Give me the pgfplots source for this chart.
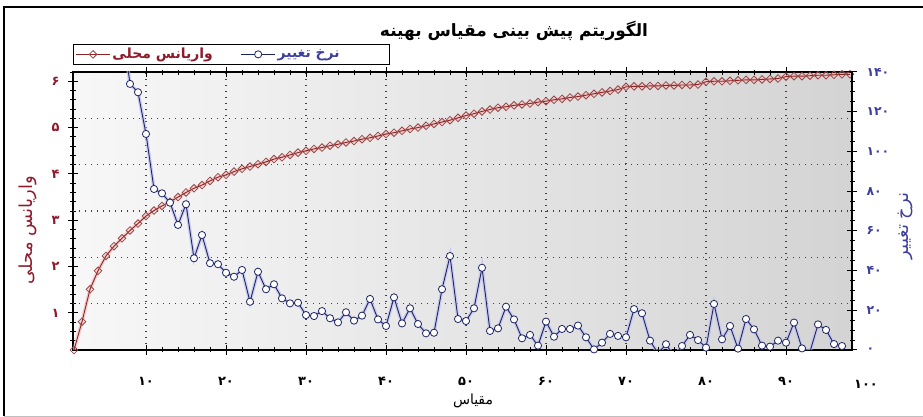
\documentclass[border=0pt]{standalone}
\usepackage{pgfplots}
\pgfplotsset{compat=1.18}
\usepackage{pgfplotstable}
\usepackage{fontspec}
\TeXXeTstate=1
\newfontfamily\fa[Script=Arabic]{DejaVu Sans}
\definecolor{redline}{HTML}{8C2424}
\definecolor{redmark}{HTML}{9A4444}
\definecolor{redglow}{HTML}{F2BDBD}
\definecolor{blueline}{HTML}{1C2464}
\definecolor{blueglow}{HTML}{BFC0F0}
\definecolor{leftc}{HTML}{8E1A2C}
\definecolor{rightc}{HTML}{3E3EA0}

\pgfplotstableread{
x y
1 0.00
2 0.61
3 1.31
4 1.71
5 2.03
6 2.24
7 2.41
8 2.58
9 2.73
10 2.89
11 3.01
12 3.11
13 3.20
14 3.30
15 3.40
16 3.49
17 3.56
18 3.65
19 3.73
20 3.78
21 3.85
22 3.91
23 3.96
24 4.01
25 4.06
26 4.12
27 4.16
28 4.21
29 4.26
30 4.30
31 4.34
32 4.37
33 4.41
34 4.44
35 4.48
36 4.51
37 4.55
38 4.58
39 4.62
40 4.66
41 4.69
42 4.73
43 4.77
44 4.80
45 4.84
46 4.88
47 4.92
48 4.96
49 5.01
50 5.06
51 5.10
52 5.15
53 5.19
54 5.23
55 5.25
56 5.28
57 5.30
58 5.32
59 5.35
60 5.37
61 5.40
62 5.42
63 5.45
64 5.47
65 5.50
66 5.53
67 5.56
68 5.59
69 5.62
70 5.68
71 5.69
72 5.69
73 5.70
74 5.70
75 5.71
76 5.71
77 5.72
78 5.72
79 5.73
80 5.79
81 5.80
82 5.80
83 5.81
84 5.82
85 5.83
86 5.83
87 5.84
88 5.85
89 5.86
90 5.90
91 5.91
92 5.91
93 5.92
94 5.93
95 5.93
96 5.94
97 5.95
98 5.95
}\redtab

\pgfplotstableread{
x y
8 134.0
9 129.8
10 108.8
11 81.1
12 78.9
13 74.2
14 63.0
15 73.4
16 46.2
17 57.9
18 43.7
19 43.2
20 38.9
21 36.9
22 40.3
23 24.3
24 39.4
25 30.6
26 33.1
27 26.0
28 23.5
29 23.8
30 17.6
31 17.1
32 19.6
33 16.0
34 13.9
35 19.0
36 14.8
37 17.3
38 25.7
39 15.4
40 12.1
41 26.5
42 13.4
43 21.0
44 13.1
45 8.4
46 8.7
47 30.6
48 47.3
49 15.6
50 14.6
51 21.0
52 41.4
53 9.6
54 10.9
55 21.8
56 15.4
57 5.9
58 7.6
59 2.2
60 14.3
61 6.7
62 10.6
63 10.6
64 12.3
65 6.4
66 0.3
67 3.7
68 8.1
69 7.1
70 6.4
71 20.6
72 18.5
73 4.7
74 -1.7
75 2.9
76 -3.0
77 2.0
78 7.6
79 5.0
80 1.2
81 23.2
82 5.4
83 12.1
84 0.7
85 15.6
86 10.4
87 2.2
88 1.7
89 4.7
90 3.7
91 13.8
92 0.8
93 -0.8
94 12.9
95 10.1
96 3.0
97 2.0
}\bluetab

\begin{document}
\begin{tikzpicture}
\useasboundingbox (0,0) rectangle (923bp,417bp);
\begin{axis}[
  at={(73bp,67bp)}, anchor=south west,
  width=779bp, height=278bp, scale only axis,
  xmin=0.875, xmax=98.25, ymin=0, ymax=6,
  clip mode=individual,
  axis background/.style={left color=black!3, right color=black!17},
  axis line style={line width=1.2bp, black},
  xtick={10,20,...,90},
  xticklabels={۱۰,۲۰,۳۰,۴۰,۵۰,۶۰,۷۰,۸۰,۹۰},
  minor x tick num=4,
  ytick={0.8,1.8,2.8,3.8,4.8,5.8},
  yticklabels={۱,۲,۳,۴,۵,۶},
  minor ytick={0.2,0.4,0.6,1.0,1.2,1.4,1.6,2.0,2.2,2.4,2.6,3.0,3.2,3.4,3.6,4.0,4.2,4.4,4.6,5.0,5.2,5.4,5.6,6.0},
  ytick pos=left,
  tick align=center,
  major tick length=10bp, minor tick length=5bp,
  tick style={black, line width=1bp},
  xmajorgrids,
  grid style={dash pattern=on 1.2bp off 4.8bp, line width=1.1bp, black!75},
  extra y ticks={1,2,3,4,5}, extra y tick labels={},
  extra y tick style={grid=major, major tick length=0pt},
  xticklabel style={font=\fa\bfseries\fontsize{13}{14}\selectfont, black},
  yticklabel style={font=\fa\bfseries\fontsize{13}{14}\selectfont, text=leftc},
  xticklabel shift=19bp,
  yticklabel shift=5bp,
]
\addplot[draw=redglow, line width=3.5bp, opacity=0.7, forget plot] table {\redtab};
\addplot[draw=redline, line width=0.9bp, mark=square, mark size=2.7bp,
  mark options={rotate=45, fill=white, draw=redmark, line width=0.8bp, solid}] table {\redtab};
\end{axis}

\begin{axis}[
  at={(73bp,67bp)}, anchor=south west,
  width=779bp, height=278bp, scale only axis,
  xmin=0.875, xmax=98.25, ymin=0, ymax=140,
  clip mode=individual,
  axis x line=none, axis y line*=right,
  axis line style={line width=1.2bp, black},
  ytick={0,20,...,140},
  yticklabels={۰,۲۰,۴۰,۶۰,۸۰,۱۰۰,۱۲۰,۱۴۰},
  minor y tick num=3,
  tick align=center,
  major tick length=10bp, minor tick length=5bp,
  tick style={black, line width=1bp},
  yticklabel style={font=\fa\bfseries\fontsize{12.5}{14}\selectfont, text=rightc},
  yticklabel shift=6bp,
  legend columns=2,
  legend style={at={(0,1)}, anchor=south west, yshift=7bp, draw=black, line width=1.2bp,
    fill=white, inner xsep=2bp, inner ysep=2bp,
    font=\fa\bfseries\fontsize{14}{15}\selectfont,
    /tikz/every even column/.append style={column sep=26bp}},
  legend image code/.code={\draw[mark repeat=2, mark phase=2, #1] plot coordinates {(0bp,0bp) (17bp,0bp) (34bp,0bp)};},
]
\addlegendimage{draw=redline, line width=0.9bp, mark=square, mark size=2.7bp,
  mark options={rotate=45, fill=white, draw=redmark, line width=0.8bp, solid}}
\addlegendentry{\textcolor{leftc}{\beginR واریانس محلی\endR}}
\addplot[draw=blueglow, line width=3.5bp, opacity=0.7, forget plot] coordinates {(7,164) (8,134)};
\addplot[draw=blueglow, line width=3.5bp, opacity=0.7, forget plot] table {\bluetab};
\addplot[draw=blueline, line width=0.9bp, forget plot] coordinates {(7,164) (8,134)};
\addplot[draw=blueline, line width=0.9bp, mark=*, mark size=3.6bp,
  mark options={fill=white, draw=blueline, line width=0.8bp, solid}] table {\bluetab};
\addlegendentry{\textcolor{rightc}{\beginR نرخ تغییر\endR}\hspace*{46bp}}
\end{axis}

\node[font=\fa\bfseries\fontsize{13}{14}\selectfont] at (866bp,33bp) {۱۰۰};
\node[font=\fa\bfseries\fontsize{17}{19}\selectfont] at (514bp,386bp) {\beginR الگوریتم پیش بینی مقیاس بهینه\endR};
\node[font=\fa\fontsize{14}{16}\selectfont] at (473bp,16bp) {\beginR مقیاس\endR};
\node[rotate=90, font=\fa\fontsize{18}{20}\selectfont, text=leftc] at (28bp,187bp) {\beginR واریانس محلی\endR};
\node[rotate=90, font=\fa\fontsize{18}{20}\selectfont, text=rightc] at (905bp,191bp) {\beginR نرخ تغییر\endR};
\draw[line width=1.5bp] (4bp,1bp) -- (4bp,410bp) -- (923bp,410bp);
\draw[line width=0.6bp, black!25] (4bp,1bp) -- (923bp,1bp);
\end{tikzpicture}
\end{document}
